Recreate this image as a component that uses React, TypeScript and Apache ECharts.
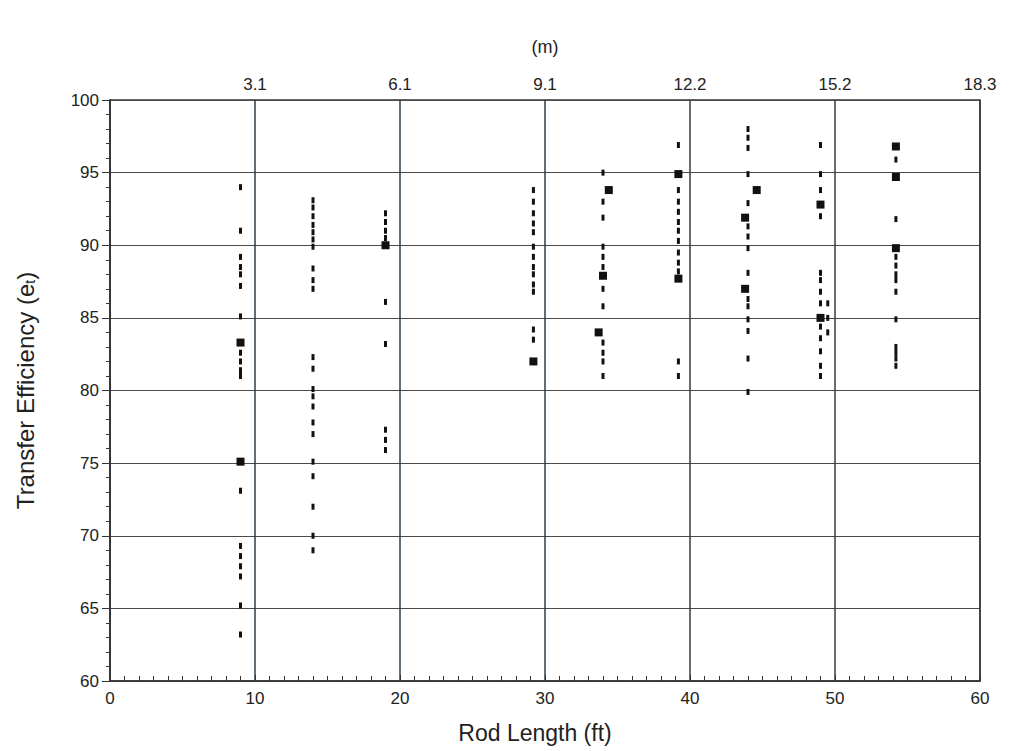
import React, { useEffect, useRef } from "react";
import * as echarts from "echarts";

// Tick labels of the secondary (metric) axis at 0,10,...,60 ft
const topTickLabelsM = ["", "3.1", "6.1", "9.1", "12.2", "15.2", "18.3"];

// Rod lengths (ft) of each measured column of points
const rodLengthsFt = [9, 14, 19, 29.2, 34, 39.2, 44, 49, 54.2];

// Transfer efficiency values (small dash markers) per rod length
const eff9 = [94, 91, 89.2, 88.5, 88, 87.2, 85.1, 82.6, 82, 81.4, 81, 73.1, 69.3, 68.6, 67.9, 67.2, 65.2, 63.2];
const eff14 = [93.1, 92.6, 92, 91.4, 90.9, 90.4, 89.9, 88.4, 87.6, 87, 82.3, 81.5, 80.1, 79.6, 78.9, 77.8, 77, 75.1, 74.1, 72, 70, 69];
const eff19 = [92.2, 91.6, 91, 90.5, 86.1, 83.2, 77.3, 76.6, 75.9];
const eff29 = [93.8, 93, 92.2, 91.5, 90.9, 89.9, 89.2, 88.5, 88, 87.3, 86.8, 84.2, 83.5];
const eff34 = [95, 93, 91.9, 89.9, 89.2, 88.5, 87, 85.8, 83.3, 82.6, 82, 81];
const eff39 = [96.9, 93.8, 93, 92.3, 91.6, 91, 90.3, 89.5, 88.8, 88.2, 82, 81];
const eff44 = [98, 97.4, 96.7, 94.9, 92.9, 91.3, 90.6, 89.8, 88.1, 86.3, 85.8, 84.9, 84.1, 82.2, 79.9];
const eff49 = [96.9, 94.9, 93.8, 92, 88.1, 87.6, 86.8, 86, 84.4, 83.6, 82.7, 81.7, 81];
const eff54 = [95.9, 91.8, 89.2, 88.6, 88, 87.6, 86.8, 84.9, 83, 82.6, 82.2, 81.7];
const efficiencies = [eff9, eff14, eff19, eff29, eff34, eff39, eff44, eff49, eff54];

// Overlapping points (drawn as bigger blocks)
const blockRodLengthsFt = [9, 9, 19, 29.2, 34.4, 34, 33.7, 39.2, 39.2, 44.6, 43.8, 43.8, 49, 49, 54.2, 54.2, 54.2];
const blockEfficiencies = [83.3, 75.1, 90, 82, 93.8, 87.9, 84, 94.9, 87.7, 93.8, 91.9, 87, 92.8, 85, 96.8, 94.7, 89.8];

// Slightly offset points beside the 49 ft column
const offsetRodLengthsFt = [49.5, 49.5, 49.5];
const offsetEfficiencies = [86, 85, 84];

const FONT = "'Liberation Sans', Arial, sans-serif";

export default function App() {
  const ref = useRef<HTMLDivElement>(null);

  useEffect(() => {
    if (!ref.current) return;
    const chart = echarts.init(ref.current, undefined, { renderer: "svg" });

    const smallData: number[][] = [];
    rodLengthsFt.forEach((x, i) => {
      efficiencies[i].forEach((y) => smallData.push([x, y]));
    });
    offsetRodLengthsFt.forEach((x, i) => smallData.push([x, offsetEfficiencies[i]]));
    const blockData = blockRodLengthsFt.map((x, i) => [x, blockEfficiencies[i]]);

    chart.setOption({
      animation: false,
      backgroundColor: "#ffffff",
      grid: {
        left: 110,
        right: 45,
        top: 100,
        bottom: 70,
        show: true,
        borderColor: "#333",
        borderWidth: 1.5,
      },
      xAxis: [
        {
          type: "value",
          min: 0,
          max: 60,
          interval: 10,
          position: "bottom",
          name: "Rod Length (ft)",
          nameLocation: "middle",
          nameGap: 40,
          nameTextStyle: { fontFamily: FONT, fontSize: 23, color: "#222", padding: [0, 20, 0, 0] },
          axisLine: { show: true, lineStyle: { color: "#333", width: 1.5 } },
          axisTick: { show: true, inside: true, length: 6, lineStyle: { color: "#333" } },
          minorTick: { show: true, splitNumber: 10, length: 5, lineStyle: { color: "#333" } },
          axisLabel: { fontFamily: FONT, fontSize: 17, color: "#222", margin: 9 },
          splitLine: { show: true, lineStyle: { color: "#2f3d48", width: 1.5 } },
        },
        {
          type: "value",
          min: 0,
          max: 60,
          interval: 10,
          position: "top",
          name: "(m)",
          nameLocation: "middle",
          nameGap: 44,
          nameTextStyle: { fontFamily: FONT, fontSize: 18, color: "#222" },
          axisLine: { show: false },
          axisTick: { show: false },
          splitLine: { show: false },
          axisLabel: {
            fontFamily: FONT,
            fontSize: 17,
            color: "#222",
            margin: 7,
            formatter: (v: number) => topTickLabelsM[Math.round(v / 10)] ?? "",
          },
        },
      ],
      yAxis: {
        type: "value",
        min: 60,
        max: 100,
        interval: 5,
        name: "Transfer Efficiency (e{sub|t})",
        nameLocation: "middle",
        nameGap: 73,
        nameTextStyle: {
          fontFamily: FONT,
          fontSize: 24,
          color: "#222",
          rich: { sub: { fontFamily: FONT, fontSize: 14, color: "#222", verticalAlign: "bottom", padding: [10, 0, 0, 0] } },
        },
        axisLine: { show: true, lineStyle: { color: "#333", width: 1.5 } },
        axisTick: { show: true, inside: false, length: 8, lineStyle: { color: "#333" } },
        minorTick: { show: true, splitNumber: 5, length: 4, lineStyle: { color: "#333" } },
        axisLabel: { fontFamily: FONT, fontSize: 17, color: "#222", margin: 11 },
        splitLine: { show: true, lineStyle: { color: "#4a4a4a", width: 1.2 } },
      },
      series: [
        {
          type: "scatter",
          xAxisIndex: 0,
          symbol: "rect",
          symbolSize: [3, 6],
          itemStyle: { color: "#111", opacity: 1 },
          data: smallData,
          z: 3,
        },
        {
          type: "scatter",
          xAxisIndex: 0,
          symbol: "rect",
          symbolSize: [8, 8],
          itemStyle: { color: "#111", opacity: 1 },
          data: blockData,
          z: 4,
        },
      ],
    });

    return () => chart.dispose();
  }, []);

  return (
    <div
      ref={ref}
      style={{ position: "fixed", left: 0, top: 0, width: 1025, height: 751 }}
    />
  );
}
